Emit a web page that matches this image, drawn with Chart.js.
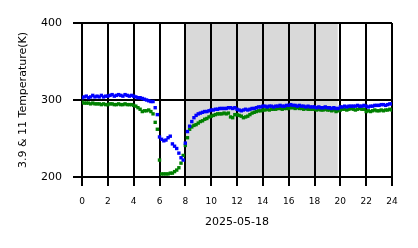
<!DOCTYPE html>
<html><head><meta charset="utf-8">
<script src="https://cdn.jsdelivr.net/npm/chart.js@4.4.1/dist/chart.umd.min.js"></script>
<style>html,body{margin:0;padding:0;background:#fff}#wrap{width:418px;height:248px}</style>
</head><body><div id="wrap"><canvas id="c" width="418" height="248"></canvas></div>
<script>
// 10-minute samples from 00:00 to 24:00
const blueT = [
303,304,305,303,304,306,
304,305,304,306,304,305,
305,306,307,305,306,307,
306,305,307,306,305,306,
305,304,303,303,302,301,
300,299,298,298,290,281,
252,249,247,248,251,253,
243,240,237,231,225,222,
244,259,266,272,277,280,
282,283,284,285,285,286,
287,287,288,288,289,289,
289,289,290,290,289,290,
288,287,286,287,288,287,
288,289,289,290,291,291,
292,292,291,292,292,291,
292,292,293,292,292,293,
293,294,293,293,292,293,
292,292,291,292,291,291,
291,290,291,290,290,291,
290,290,289,290,289,289,
291,291,292,291,292,292,
292,292,293,292,292,293,
292,291,292,292,293,293,
293,294,294,293,294,295,
295];
const greenT = [
297,296,296,296,295,296,
295,295,295,294,295,294,
294,295,295,294,294,295,
294,294,295,294,294,294,
293,292,290,288,285,286,
286,287,285,282,271,262,
222,204,204,204,204,205,
205,207,209,212,218,228,
241,251,262,265,267,268,
270,272,273,275,276,278,
279,280,281,282,282,282,
283,282,283,278,277,281,
281,280,279,277,278,279,
281,283,284,285,286,286,
287,287,288,287,288,288,
288,289,289,288,289,289,
289,290,290,289,290,289,
289,288,289,288,288,288,
288,287,288,287,287,288,
287,287,286,287,285,286,
287,288,288,287,288,289,
288,287,288,289,288,288,
285,286,285,286,287,286,
286,287,286,287,287,288,
287];
const xTicks = [0,2,4,6,8,10,12,14,16,18,20,22,24];
const yTicks = [200,300,400];
const shadeStart = 8, shadeEnd = 19.8;
const xTitle = '2025-05-18';
const yTitle = '3.9 & 11 Temperature(K)';
const stepHours = 1/6;

const toPts = arr => arr.map((v,i) => ({x: i*stepHours, y: v}));

const shade = {
  id: 'shade',
  beforeDraw(chart) {
    const {ctx, chartArea: a, scales: {x}} = chart;
    const x0 = x.getPixelForValue(shadeStart), x1 = x.getPixelForValue(shadeEnd);
    ctx.save();
    ctx.fillStyle = '#d9d9d9';
    ctx.fillRect(x0, a.top, x1 - x0, a.bottom - a.top);
    ctx.restore();
  }
};

const font = {family: 'DejaVu Sans', size: 11};
const xFont = {family: 'DejaVu Sans', size: 9};
const grid = {color: '#000', lineWidth: 2, tickLength: 9, drawTicks: true};

new Chart(document.getElementById('c'), {
  type: 'scatter',
  data: {
    datasets: [
      {data: toPts(blueT), backgroundColor: '#0000ff', pointStyle: 'rect', pointRadius: 2.4, borderWidth: 0},
      {data: toPts(greenT), backgroundColor: '#008000', pointStyle: 'rect', pointRadius: 2.4, borderWidth: 0}
    ]
  },
  options: {
    responsive: false,
    animation: false,
    devicePixelRatio: 1,
    layout: {padding: {top: 23, right: 26, left: 0, bottom: 0}},
    plugins: {legend: {display: false}, tooltip: {enabled: false}},
    scales: {
      x: {
        type: 'linear', min: 0, max: 24,
        afterBuildTicks: s => { s.ticks = xTicks.map(v => ({value: v})); },
        ticks: {font: xFont, color: '#000', padding: 10, autoSkip: false, maxRotation: 0},
        grid, border: {display: true, color: '#000', width: 2},
        title: {display: true, text: xTitle, font, color: '#000', padding: {top: 0, bottom: 19}},
        afterFit: s => { s.height = 71; }
      },
      y: {
        min: 200, max: 400,
        afterBuildTicks: s => { s.ticks = yTicks.map(v => ({value: v})); },
        ticks: {font, color: '#000', padding: 11},
        grid, border: {display: true, color: '#000', width: 2},
        title: {display: true, text: yTitle, font, color: '#000', padding: {top: 17, bottom: 0}},
        afterFit: s => { s.width = 82; }
      }
    }
  },
  plugins: [shade]
});
</script>
</body></html>
